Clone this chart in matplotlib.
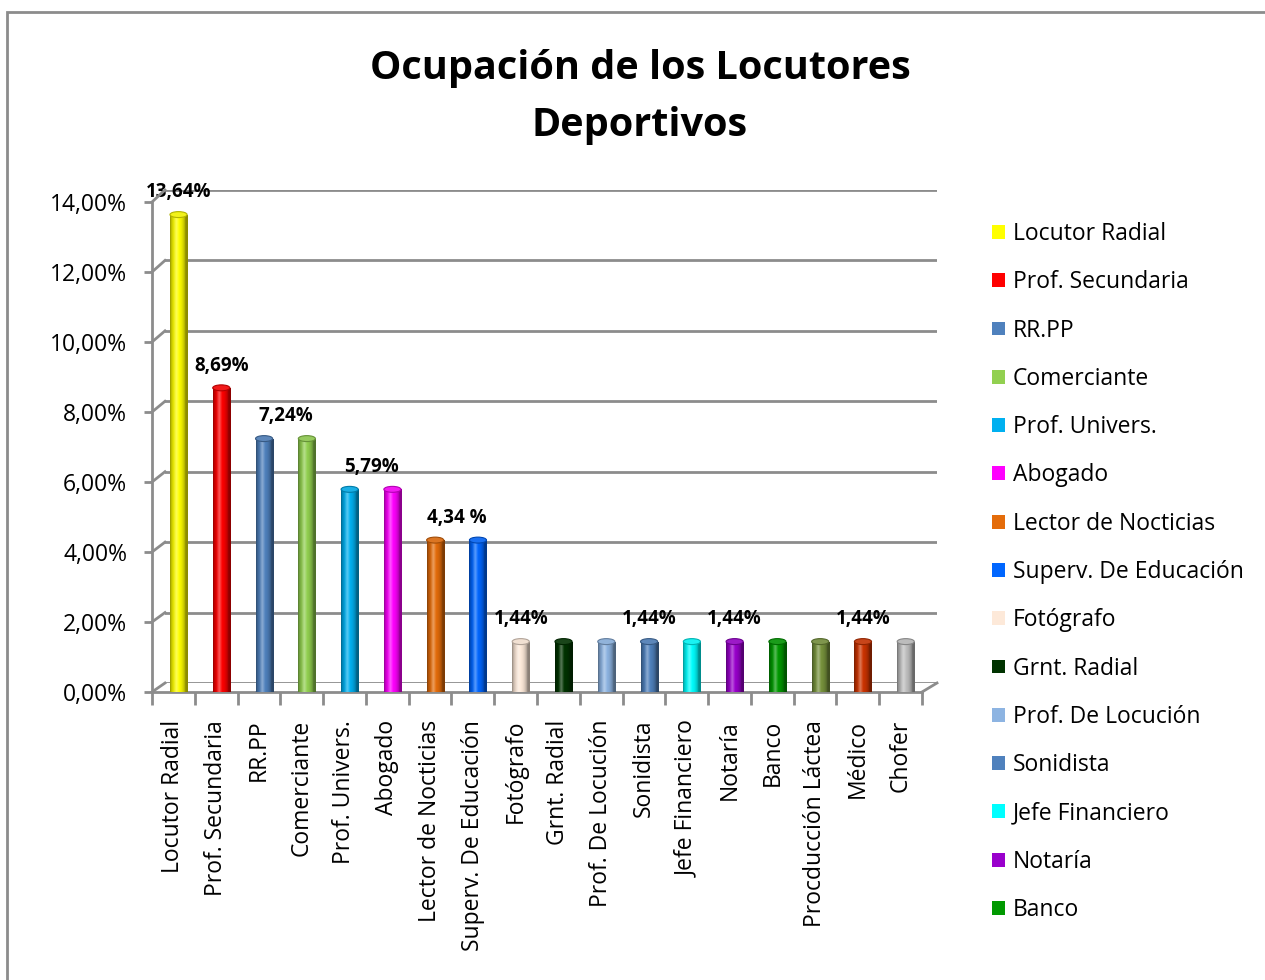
import matplotlib
matplotlib.use("Agg")
import matplotlib.pyplot as plt
import numpy as np
from matplotlib.patches import Patch, Ellipse, Rectangle
from matplotlib.lines import Line2D
from matplotlib.ticker import FuncFormatter, MultipleLocator
import matplotlib.colors as mcolors

plt.rcParams['font.family'] = ['Open Sans', 'DejaVu Sans']

# datos
categorias = ['Locutor Radial', 'Prof. Secundaria', 'RR.PP', 'Comerciante',
              'Prof. Univers.', 'Abogado', 'Lector de Nocticias',
              'Superv. De Educación', 'Fotógrafo', 'Grnt. Radial',
              'Prof. De Locución', 'Sonidista', 'Jefe Financiero', 'Notaría',
              'Banco', 'Procducción Láctea', 'Médico', 'Chofer']
valores = [13.64, 8.69, 7.24, 7.24, 5.79, 5.79, 4.34, 4.34,
           1.44, 1.44, 1.44, 1.44, 1.44, 1.44, 1.44, 1.44, 1.44, 1.44]
colores = ['#FFFF00', '#FF0000', '#4F81BD', '#92D050', '#00B0F0', '#FF00FF',
           '#E46C0A', '#0066FF', '#FDE9D9', '#003300', '#8DB4E2', '#4F81BD',
           '#00FFFF', '#9900CC', '#009900', '#77933C', '#CC3300', '#BFBFBF']
# etiquetas visibles (posicion en el eje x, texto)
etiq_pos = [0, 1, 2.5, 4.5, 6.5, 8, 11, 13, 16]
etiq_txt = ['13,64%', '8,69%', '7,24%', '5,79%', '4,34 %',
            '1,44%', '1,44%', '1,44%', '1,44%']
etiq_val = [13.64, 8.69, 7.24, 5.79, 4.34, 1.44, 1.44, 1.44, 1.44]
n_leyenda = 15

W, H = 1265, 980
fig = plt.figure(figsize=(W / 100, H / 100), dpi=100)

def rect(x0, y0, x1, y1):
    # pixeles (arriba-izquierda) -> fraccion de figura
    return [x0 / W, 1 - y1 / H, (x1 - x0) / W, (y1 - y0) / H]

gris = '#8C8C8C'
fs = 16.5

# pared del fondo con la rejilla
axb = fig.add_axes(rect(165, 190, 937, 683))
axb.set_xlim(-0.5, 17.5)
axb.set_ylim(0, 14)
axb.set_yticks(np.arange(0, 15, 2))
axb.set_xticks([])
axb.grid(axis='y', color=gris, lw=2)
axb.tick_params(left=False, labelleft=False)
for s in axb.spines.values():
    s.set_visible(False)

# eje frontal
ax = fig.add_axes(rect(152, 202, 922, 692))
ax.patch.set_alpha(0)
ax.set_xlim(-0.5, 17.5)
ax.set_ylim(0, 14)
ax.yaxis.set_major_locator(MultipleLocator(2))
ax.yaxis.set_major_formatter(FuncFormatter(lambda v, p: ('%.2f%%' % v).replace('.', ',')))
ax.set_xticks(range(len(categorias)))
ax.set_xticklabels(categorias, rotation=90, fontsize=fs)
ax.set_xticks(np.arange(-0.5, 18, 1), minor=True)
ax.tick_params(axis='x', which='major', length=0, pad=20)
ax.tick_params(axis='x', which='minor', length=9, width=2, color=gris)
ax.tick_params(axis='y', length=6, width=2, color=gris, labelsize=fs, pad=12)
for s in ['top', 'right']:
    ax.spines[s].set_visible(False)
for s in ['left', 'bottom']:
    ax.spines[s].set_color(gris)
    ax.spines[s].set_linewidth(2)

# diagonales de profundidad
inv = fig.transFigure.inverted()
for v in np.arange(0, 15, 2):
    p0 = inv.transform(ax.transData.transform((-0.5, v)))
    p1 = inv.transform(axb.transData.transform((-0.5, v)))
    fig.add_artist(Line2D([p0[0], p1[0]], [p0[1], p1[1]], color=gris, lw=2))
p0 = inv.transform(ax.transData.transform((17.5, 0)))
p1 = inv.transform(axb.transData.transform((17.5, 0)))
fig.add_artist(Line2D([p0[0], p1[0]], [p0[1], p1[1]], color=gris, lw=2))

# barras tipo cilindro
desp = 0.12
ancho = 0.4
barras = ax.bar(np.arange(len(valores)) + desp, valores, width=ancho,
                color=colores, zorder=3, linewidth=0)
t = np.linspace(0, 1, 64)
brillo = 0.55 + 0.45 * np.sin(np.pi * np.clip(t * 1.15, 0, 1)) ** 0.6
for b, c in zip(barras, colores):
    rgb = np.array(mcolors.to_rgb(c))
    fila = np.array([np.clip(rgb * f + (1 - rgb) * max(0, 1 - abs(tt - 0.35) * 6) * 0.35, 0, 1)
                     for f, tt in zip(brillo, t)])
    img = ax.imshow(fila[np.newaxis, :, :], extent=[b.get_x(), b.get_x() + b.get_width(), 0, b.get_height()],
                    aspect='auto', zorder=3.5, interpolation='bilinear')
    img.set_clip_path(b)
    tapa = Ellipse((b.get_x() + b.get_width() / 2, b.get_height()), b.get_width(), 0.17,
                   facecolor=np.clip(rgb * 0.85 + 0.1, 0, 1), edgecolor=np.clip(rgb * 0.7, 0, 1),
                   lw=0.8, zorder=4)
    ax.add_patch(tapa)
    base = Ellipse((b.get_x() + b.get_width() / 2, 0), b.get_width(), 0.17,
                   facecolor=np.clip(rgb * 0.8, 0, 1), lw=0, zorder=3.2)
    ax.add_patch(base)
ax.set_xlim(-0.5, 17.5)

# etiquetas de datos
for xp, txt, v in zip(etiq_pos, etiq_txt, etiq_val):
    ax.annotate(txt, (xp + desp, v), xytext=(0, 16), textcoords='offset points',
                ha='center', va='center', fontsize=13.5, fontweight='bold', zorder=6)

# titulo
fig.text(640 / W, 1 - 97 / H, 'Ocupación de los Locutores\nDeportivos', ha='center', va='center',
         fontsize=28.5, fontweight='bold', linespacing=1.6)

# leyenda (recortada como en el original)
manejadores = [Patch(facecolor=c, edgecolor='none') for c in colores[:n_leyenda]]
fig.legend(manejadores, categorias[:n_leyenda], loc='upper left',
           bbox_to_anchor=(992 / W, 1 - 222 / H), frameon=False, fontsize=fs,
           handlelength=0.55, handleheight=0.55, handletextpad=0.35,
           labelspacing=1.06, borderpad=0, borderaxespad=0)

# marco del grafico
fig.add_artist(Rectangle((7 / W, -0.1), 1.2, 1 - 12 / H + 0.1, transform=fig.transFigure,
                         fill=False, edgecolor=gris, lw=2))

fig.savefig('out.png', dpi=100)
